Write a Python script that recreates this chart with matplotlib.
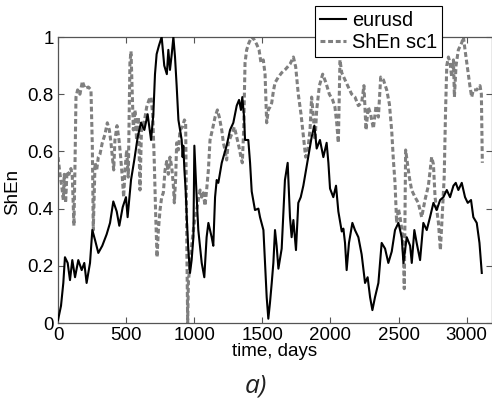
import matplotlib
matplotlib.use("Agg")
import matplotlib.pyplot as plt
from matplotlib.lines import Line2D

# ---- data ----
eur_days = [0, 22, 39, 51, 71, 88, 105, 125, 149, 174, 193, 210, 235, 252, 272, 296, 325, 357,
            382, 406, 431, 450, 475, 499, 511, 536, 560, 585, 609, 634, 658, 683, 700, 712,
            724, 741, 761, 780, 799, 810, 822, 835, 847, 859, 871, 884, 896, 908, 915, 920,
            928, 937, 947, 957, 969, 981, 994, 1001, 1018, 1030, 1055, 1074, 1091, 1104,
            1128, 1140, 1153, 1165, 1177, 1202, 1214, 1238, 1263, 1287, 1312, 1329, 1343,
            1353, 1366, 1373, 1397, 1410, 1422, 1446, 1471, 1483, 1508, 1520, 1532, 1544,
            1556, 1569, 1581, 1593, 1605, 1618, 1642, 1666, 1686, 1703, 1715, 1728, 1747,
            1764, 1782, 1801, 1821, 1838, 1862, 1882, 1899, 1923, 1948, 1972, 1985, 1997,
            2021, 2041, 2058, 2083, 2095, 2107, 2119, 2136, 2161, 2180, 2205, 2229, 2254,
            2273, 2291, 2308, 2327, 2352, 2376, 2401, 2425, 2450, 2474, 2499, 2523, 2536,
            2560, 2585, 2597, 2616, 2633, 2658, 2682, 2707, 2731, 2756, 2780, 2805, 2829,
            2854, 2878, 2903, 2920, 2939, 2964, 2988, 3008, 3032, 3049, 3074, 3094, 3111]
eur_vals = [0.01, 0.06, 0.14, 0.23, 0.21, 0.15, 0.22, 0.16, 0.22, 0.185, 0.21, 0.14, 0.21, 0.325,
            0.29, 0.245, 0.27, 0.31, 0.35, 0.425, 0.39, 0.34, 0.405, 0.44, 0.37, 0.50, 0.57,
            0.65, 0.70, 0.675, 0.73, 0.64, 0.73, 0.87, 0.94, 0.97, 1.0, 0.90, 0.87, 0.955,
            0.885, 0.94, 1.0, 0.93, 0.83, 0.71, 0.675, 0.64, 0.58, 0.62, 0.535, 0.465, 0.35,
            0.255, 0.175, 0.22, 0.30, 0.62, 0.44, 0.325, 0.21, 0.16, 0.30, 0.35, 0.30, 0.27,
            0.44, 0.50, 0.49, 0.56, 0.58, 0.62, 0.675, 0.70, 0.76, 0.78, 0.745, 0.79, 0.72,
            0.64, 0.64, 0.56, 0.46, 0.395, 0.40, 0.37, 0.325, 0.21, 0.09, 0.015, 0.07, 0.14,
            0.21, 0.325, 0.27, 0.19, 0.26, 0.50, 0.56, 0.37, 0.30, 0.36, 0.255, 0.42, 0.44,
            0.48, 0.535, 0.58, 0.65, 0.69, 0.61, 0.64, 0.58, 0.63, 0.56, 0.47, 0.44, 0.48,
            0.39, 0.32, 0.33, 0.28, 0.185, 0.28, 0.35, 0.325, 0.30, 0.24, 0.14, 0.16, 0.09,
            0.045, 0.09, 0.14, 0.28, 0.26, 0.21, 0.25, 0.325, 0.35, 0.30, 0.21, 0.30, 0.27,
            0.21, 0.325, 0.28, 0.22, 0.35, 0.325, 0.37, 0.42, 0.395, 0.43, 0.44, 0.465, 0.44,
            0.48, 0.49, 0.465, 0.49, 0.44, 0.42, 0.43, 0.37, 0.35, 0.28, 0.175]

shen_days = [0, 15, 27, 39, 46, 56, 66, 81, 95, 105, 117, 125, 132, 144, 161, 179, 198, 223, 242,
             252, 259, 272, 284, 296, 308, 325, 345, 362, 377, 389, 399, 409, 418, 433, 448,
             460, 472, 482, 492, 504, 516, 528, 536, 546, 553, 565, 577, 590, 602, 614, 626,
             639, 651, 668, 683, 695, 707, 717, 727, 737, 749, 761, 773, 786, 798, 810, 822,
             835, 847, 854, 864, 871, 884, 896, 913, 928, 937, 942, 947, 952, 957, 969, 981,
             994, 1006, 1018, 1030, 1043, 1055, 1067, 1079, 1091, 1104, 1116, 1133, 1153,
             1170, 1184, 1202, 1214, 1226, 1238, 1250, 1275, 1295, 1312, 1329, 1343, 1353,
             1363, 1373, 1385, 1402, 1422, 1441, 1458, 1476, 1490, 1507, 1520, 1532, 1544,
             1556, 1569, 1581, 1593, 1618, 1642, 1666, 1703, 1728, 1745, 1764, 1784, 1801,
             1818, 1833, 1850, 1862, 1875, 1887, 1899, 1919, 1943, 1967, 1992, 2016, 2033,
             2046, 2058, 2070, 2083, 2107, 2131, 2156, 2180, 2205, 2229, 2246, 2261, 2278,
             2295, 2315, 2335, 2352, 2369, 2389, 2413, 2433, 2450, 2462, 2474, 2486, 2499,
             2511, 2523, 2536, 2542, 2552, 2565, 2579, 2596, 2621, 2645, 2670, 2694, 2719,
             2743, 2756, 2768, 2793, 2807, 2820, 2835, 2845, 2854, 2866, 2878, 2890, 2903,
             2910, 2922, 2939, 2964, 2976, 2988, 3008, 3025, 3037, 3049, 3074, 3098, 3108, 3115]
shen_vals = [0.58, 0.52, 0.48, 0.43, 0.52, 0.42, 0.53, 0.52, 0.54, 0.51, 0.34, 0.56, 0.79, 0.815,
             0.80, 0.845, 0.82, 0.825, 0.815, 0.62, 0.325, 0.56, 0.535, 0.58, 0.59, 0.63, 0.66,
             0.70, 0.675, 0.63, 0.58, 0.535, 0.64, 0.69, 0.64, 0.58, 0.51, 0.44, 0.535, 0.605,
             0.51, 0.91, 0.95, 0.79, 0.675, 0.745, 0.64, 0.72, 0.465, 0.70, 0.685, 0.72, 0.755,
             0.78, 0.79, 0.73, 0.56, 0.38, 0.23, 0.325, 0.395, 0.44, 0.455, 0.535, 0.565, 0.52,
             0.58, 0.545, 0.48, 0.42, 0.51, 0.63, 0.605, 0.675, 0.685, 0.71, 0.70, 0.44, 0.21,
             0.0, 0.14, 0.21, 0.27, 0.325, 0.37, 0.395, 0.43, 0.465, 0.44, 0.455, 0.41, 0.465,
             0.535, 0.64, 0.675, 0.72, 0.745, 0.72, 0.675, 0.63, 0.605, 0.57, 0.63, 0.66, 0.685,
             0.65, 0.615, 0.58, 0.56, 0.675, 0.91, 0.955, 0.98, 1.0, 0.99, 0.975, 0.955, 0.91,
             0.92, 0.87, 0.70, 0.745, 0.755, 0.77, 0.81, 0.84, 0.86, 0.875, 0.885, 0.905, 0.93,
             0.895, 0.80, 0.73, 0.655, 0.58, 0.60, 0.675, 0.79, 0.72, 0.64, 0.745, 0.83, 0.87,
             0.84, 0.80, 0.78, 0.755, 0.70, 0.63, 0.92, 0.875, 0.85, 0.825, 0.80, 0.79, 0.76,
             0.77, 0.83, 0.675, 0.755, 0.73, 0.68, 0.76, 0.72, 0.86, 0.85, 0.815, 0.765, 0.67,
             0.57, 0.49, 0.35, 0.40, 0.37, 0.33, 0.25, 0.12, 0.605, 0.56, 0.51, 0.465, 0.44,
             0.42, 0.37, 0.43, 0.48, 0.58, 0.555, 0.44, 0.35, 0.255, 0.37, 0.51, 0.74, 0.90,
             0.93, 0.91, 0.86, 0.92, 0.79, 0.90, 0.955, 0.98, 1.0, 0.955, 0.885, 0.825, 0.79,
             0.815, 0.815, 0.83, 0.80, 0.56]

x_ticks = [0, 500, 1000, 1500, 2000, 2500, 3000]
y_ticks = [0, 0.2, 0.4, 0.6, 0.8, 1.0]
y_tick_labels = ["0", "0.2", "0.4", "0.6", "0.8", "1"]
series_labels = ["eurusd", "ShEn sc1"]

plt.rcParams['font.family'] = ['Liberation Sans', 'DejaVu Sans']

W, H = 492, 401
fig = plt.figure(figsize=(W / 100, H / 100), dpi=100)
ax = fig.add_axes([58 / W, 1 - 323 / H, (492 - 58) / W, (323 - 37) / H])

ax.plot(shen_days, shen_vals, color='#7f7f7f', lw=2.2, linestyle=(0, (1.6, 0.9)),
        label=series_labels[1], zorder=2)
ax.plot(eur_days, eur_vals, color='black', lw=1.5, label=series_labels[0], zorder=3)

ax.set_xlim(0, 3186)
ax.set_ylim(0, 1)
ax.set_xticks(x_ticks)
ax.set_yticks(y_ticks)
ax.set_yticklabels(y_tick_labels)
ax.tick_params(direction='in', top=True, right=True, labelsize=13.5, length=4,
               width=0.8, color='#555555', pad=3)
for s in ax.spines.values():
    s.set_color('#555555')
    s.set_linewidth(0.9)

ax.set_xlabel("time, days", fontsize=13.5, labelpad=-1)
ax.set_ylabel("ShEn", fontsize=13.5)
ax.yaxis.set_label_coords(-0.085, 0.46)

handles = [Line2D([], [], color='black', lw=1.5),
           Line2D([], [], color='#7f7f7f', lw=2.2, linestyle=(0, (1.6, 0.9)))]
leg = fig.legend(handles, series_labels, loc='upper left',
                 bbox_to_anchor=(315 / W, 1 - 6 / H), bbox_transform=fig.transFigure,
                 fontsize=14.4, frameon=True, fancybox=False, framealpha=1,
                 edgecolor='black', handlelength=1.3, handletextpad=0.3,
                 borderpad=0.25, labelspacing=0.15, borderaxespad=0)
leg.get_frame().set_linewidth(0.8)

fig.text(256 / W, 1 - 386 / H, "a)", fontsize=19, style='italic',
         family=['Open Sans', 'DejaVu Sans'], ha='center', va='center', color='#222222')

fig.savefig("out.png", dpi=100)
